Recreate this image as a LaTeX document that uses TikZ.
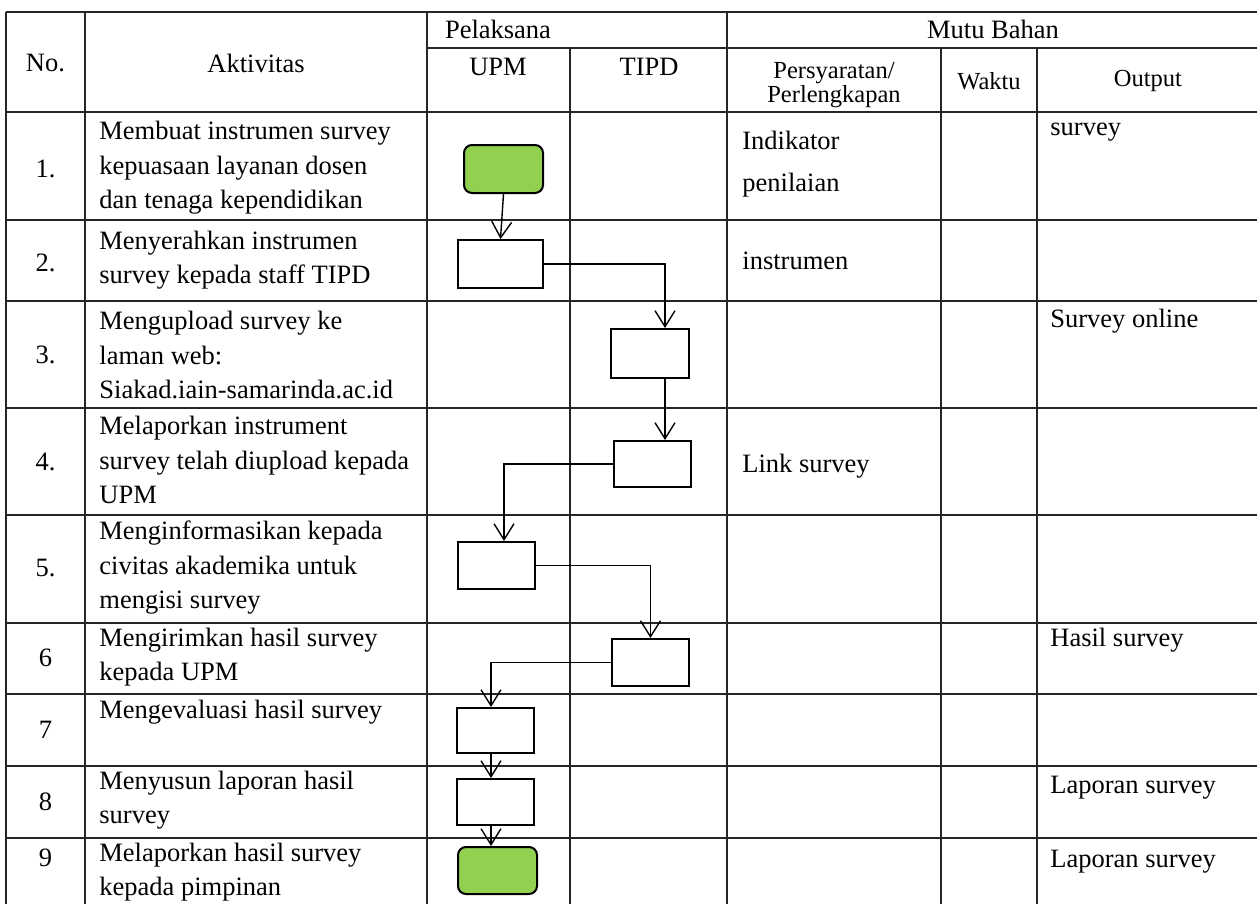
\documentclass[tikz,border=0pt]{standalone}
\usepackage{fontspec}
\setmainfont{Liberation Serif}
\usetikzlibrary{positioning,arrows.meta,calc}
\definecolor{StartGreen}{RGB}{146,208,80}
\newdimen\pxu \pxu=0.5pt
\tikzset{
  tabline/.style={draw=black!85,line width=0.6pt},
  flow/.style={-{Straight Barb[length=8pt,width=10pt]},line width=0.7pt},
  procbox/.style={draw,line width=1pt,minimum width=77\pxu,minimum height=47\pxu,inner sep=0pt},
  termbox/.style={procbox,fill=StartGreen,rounded corners=4pt,minimum width=79\pxu},
  cell/.style={font=\fontsize{13.25}{17.25}\selectfont,inner sep=0pt,align=left},
  headsmall/.style={font=\fontsize{12.25}{12}\selectfont,inner sep=0pt,align=center}
}

\begin{document}
\begin{tikzpicture}[x=0.5pt,y=-0.5pt]
  \useasboundingbox (0,0) rectangle (1257,904);

  % table
  \draw[tabline] (6,12) -- (1257,12);
  \draw[tabline] (427,48) -- (1257,48);
  \foreach \y in {112,220,301,408,515,623,694,766,838}
    \draw[tabline] (6,\y) -- (1257,\y);
  \foreach \x in {6,85,427,727}
    \draw[tabline] (\x,12) -- (\x,904);
  \foreach \x in {570,941,1037}
    \draw[tabline] (\x,48) -- (\x,904);

  % header
  \node[cell] (hno) at (45.5,63) {No.};
  \node[cell] (hakt) at (256,63) {Aktivitas};
  \node[cell] (hpel) at (498,29) {Pelaksana};
  \node[cell] (hupm) at (498,67) {UPM};
  \node[cell] (htipd) at (649,67) {TIPD};
  \node[cell] (hmutu) at (993,29) {Mutu Bahan};
  \node[headsmall] (hsyarat) at (834,85) {Persyaratan/\\Perlengkapan};
  \node[headsmall] (hwaktu) at (989,81) {Waktu};
  \node[headsmall] (hout) at (1148,81) {Output};

  % nomor
  \node[cell] (n1) at (45.5,169) {1.};
  \node[cell] (n2) at (45.5,263) {2.};
  \node[cell] (n3) at (45.5,355) {3.};
  \node[cell] (n4) at (45.5,462) {4.};
  \node[cell] (n5) at (45.5,568) {5.};
  \node[cell] (n6) at (45.5,658) {6};
  \node[cell] (n7) at (45.5,730) {7};
  \node[cell] (n8) at (45.5,802) {8};
  \node[cell] (n9) at (45.5,858) {9};

  % aktivitas
  \node[cell,anchor=west] (t1) at (99,168) {Membuat instrumen survey\\kepuasaan layanan dosen\\dan tenaga kependidikan};
  \node[cell,anchor=west] (t2) at (99,260) {Menyerahkan instrumen\\survey kepada staff TIPD};
  \node[cell,anchor=west] (t3) at (99,355) {Mengupload survey ke\\laman web:\\Siakad.iain-samarinda.ac.id};
  \node[cell,anchor=west] (t4) at (99,460) {Melaporkan instrument\\survey telah diupload kepada\\UPM};
  \node[cell,anchor=west] (t5) at (99,568) {Menginformasikan kepada\\civitas akademika untuk\\mengisi survey};
  \node[cell,anchor=west] (t6) at (99,657) {Mengirimkan hasil survey\\kepada UPM};
  \node[cell,anchor=west] (t7) at (99,712) {Mengevaluasi hasil survey};
  \node[cell,anchor=west] (t8) at (99,800) {Menyusun laporan hasil\\survey};
  \node[cell,anchor=west] (t9) at (99,872) {Melaporkan hasil survey\\kepada pimpinan};

  % persyaratan / output
  \node[cell,anchor=west] (s1) at (742,164) {Indikator\\[3.75pt]penilaian};
  \node[cell,anchor=west] (s2) at (742,261) {instrumen};
  \node[cell,anchor=west] (s4) at (742,466) {Link survey};
  \node[cell,anchor=west] (o1) at (1050,132) {survey};
  \node[cell,anchor=west] (o3) at (1050,321) {Survey online};
  \node[cell,anchor=west] (o6) at (1050,640) {Hasil survey};
  \node[cell,anchor=west] (o8) at (1050,788) {Laporan survey};
  \node[cell,anchor=west] (o9) at (1050,862) {Laporan survey};

  % alur
  \node[termbox,minimum height=48\pxu] (g1) at (503.5,169) {};
  \node[procbox,minimum width=85\pxu,minimum height=48\pxu] (b2) at (500.5,264) {};
  \node[procbox,minimum width=78\pxu,minimum height=49\pxu] (b3) at (650,353.5) {};
  \node[procbox,minimum height=46\pxu] (b4) at (652.5,464) {};
  \node[procbox] (b5) at (496.5,565.5) {};
  \node[procbox] (b6) at (650.5,662.5) {};
  \node[procbox,minimum height=45\pxu] (b7) at (495.5,730.5) {};
  \node[procbox,minimum height=46\pxu] (b8) at (495.5,802) {};
  \node[termbox] (g9) at (497.5,870.5) {};

  \draw[flow] (g1.south) -- (b2.north);
  \draw[flow] (b2.east) -| ($(b3.north)+(15,0)$);
  \draw[flow] ($(b3.south)+(15,0)$) -- ($(b4.north)+(12.5,0)$);
  \draw[flow] (b4.west) -| ($(b5.north)+(7.5,0)$);
  \draw[flow] (b5.east) -| (b6.north);
  \draw[flow] (b6.west) -| ($(b7.north)+(-4.5,0)$);
  \draw[flow] ($(b7.south)+(-4.5,0)$) -- ($(b8.north)+(-4.5,0)$);
  \draw[flow] ($(b8.south)+(-4.5,0)$) -- ($(g9.north)+(-6.5,0)$);
\end{tikzpicture}
\end{document}
